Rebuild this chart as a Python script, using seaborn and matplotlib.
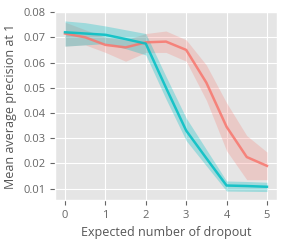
import pandas as pd
import numpy as np
import seaborn as sns
import matplotlib
matplotlib.use("Agg")
import matplotlib.pyplot as plt

# expected number of dropout
dropout = [0, 0.5, 1, 1.5, 2, 2.5, 3, 3.5, 4, 4.5, 5]

# red series
red_mean = [0.0715, 0.0700, 0.0670, 0.0660, 0.0680, 0.0683, 0.0650, 0.0520, 0.0345, 0.0225, 0.0190]
red_low = [0.0665, 0.0670, 0.0640, 0.0605, 0.0640, 0.0640, 0.0605, 0.0450, 0.0250, 0.0135, 0.0135]
red_high = [0.0760, 0.0730, 0.0700, 0.0690, 0.0715, 0.0725, 0.0690, 0.0590, 0.0440, 0.0310, 0.0245]

# cyan series
cyan_mean = [0.0720, 0.0715, 0.0710, 0.0693, 0.0675, 0.0500, 0.0330, 0.0220, 0.0112, 0.0110, 0.0107]
cyan_low = [0.0665, 0.0670, 0.0675, 0.0655, 0.0630, 0.0455, 0.0290, 0.0190, 0.0090, 0.0089, 0.0088]
cyan_high = [0.0765, 0.0758, 0.0745, 0.0730, 0.0715, 0.0545, 0.0380, 0.0255, 0.0130, 0.0128, 0.0125]

RED = "#F8766D"
CYAN = "#00BFC4"

plt.style.use("ggplot")
plt.rcParams["font.family"] = ["Open Sans", "DejaVu Sans"]
fig, ax = plt.subplots(figsize=(2.83, 2.42), dpi=100)

df = pd.DataFrame({
    "dropout": dropout * 2,
    "value": red_mean + cyan_mean,
    "series": ["red"] * len(dropout) + ["cyan"] * len(dropout),
})

ax.fill_between(dropout, red_low, red_high, color=RED, alpha=0.25, linewidth=0)
ax.fill_between(dropout, cyan_low, cyan_high, color=CYAN, alpha=0.3, linewidth=0)
sns.lineplot(df, x="dropout", y="value", hue="series",
             palette={"red": RED, "cyan": CYAN}, errorbar=None,
             linewidth=1.8, alpha=0.85, legend=False, ax=ax)

ax.set_ylim(0.0055, 0.08)
ax.set_xticks([0, 1, 2, 3, 4, 5])
ax.set_yticks([0.01, 0.02, 0.03, 0.04, 0.05, 0.06, 0.07, 0.08])
ax.tick_params(labelsize=8, colors="#666666")
ax.set_xlabel("Expected number of dropout", fontsize=9, color="#555555")
ax.set_ylabel("Mean average precision at 1", fontsize=9, color="#555555")

fig.subplots_adjust(left=0.194, right=0.979, bottom=0.174, top=0.95)
plt.savefig("out.png", dpi=100)
